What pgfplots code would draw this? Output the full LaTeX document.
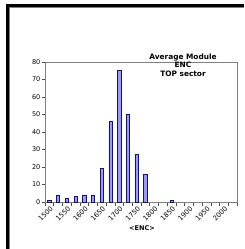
\documentclass[border=0pt]{standalone}
\usepackage{pgfplots}
\pgfplotsset{compat=1.18}
\usepackage{fontspec}
\setmainfont{DejaVu Sans}
\definecolor{barfill}{RGB}{153,153,255}
\definecolor{barline}{RGB}{20,20,100}
\definecolor{frgray}{RGB}{128,128,128}
\begin{document}
\begin{tikzpicture}[x=1pt,y=1pt]
\useasboundingbox (0,0) rectangle (245,249);
% frame
\fill[black] (6,0) rectangle (9,245);
\fill[black] (6,242) rectangle (244,245);
\fill[frgray] (9,0) rectangle (10,242);
\fill[frgray] (9,241) rectangle (244,242);
\begin{axis}[
  at={(45pt,47pt)}, anchor=south west,
  scale only axis, width=192pt, height=140pt,
  xmin=-0.5, xmax=21.5, ymin=0, ymax=80,
  ytick={0,10,...,80},
  xtick={0,2,...,20},
  xticklabels={1500,1550,1600,1650,1700,1750,1800,1850,1900,1950,2000},
  major x tick style={draw=none},
  minor xtick={-0.5,0.5,...,21.5},
  minor x tick style={draw=black!70, line width=0.5pt},
  minor tick length=4pt,
  tick align=outside,
  major tick length=3pt,
  ytick style={draw=black!70, line width=0.5pt},
  axis line style={frgray, line width=0.6pt},
  xtick pos=bottom, ytick pos=left,
  yticklabel style={font=\fontsize{6.5}{7}\selectfont, inner sep=1.5pt},
  /pgf/number format/assume math mode=true,
  xticklabel style={font=\fontsize{6.8}{7}\selectfont, rotate=45, anchor=east, inner sep=0.5pt, yshift=-3.5pt, xshift=0.5pt},
  ybar, bar width=3.3pt,
  clip=false,
]
\addplot[fill=barfill, draw=barline, line width=0.6pt] coordinates {
(0,1) (1,4) (2,2) (3,3) (4,4) (5,4) (6,19) (7,46) (8,75) (9,50) (10,27) (11,16)
(14,1)
};
\end{axis}
\node[align=center, font=\bfseries\fontsize{7.4}{8.3}\selectfont, inner sep=0pt] at (183,184) {Average Module\\ENC\\TOP sector};
\node[font=\bfseries\fontsize{6.5}{7}\selectfont, inner sep=0pt] at (142,21) {<ENC>};
\end{tikzpicture}
\end{document}
